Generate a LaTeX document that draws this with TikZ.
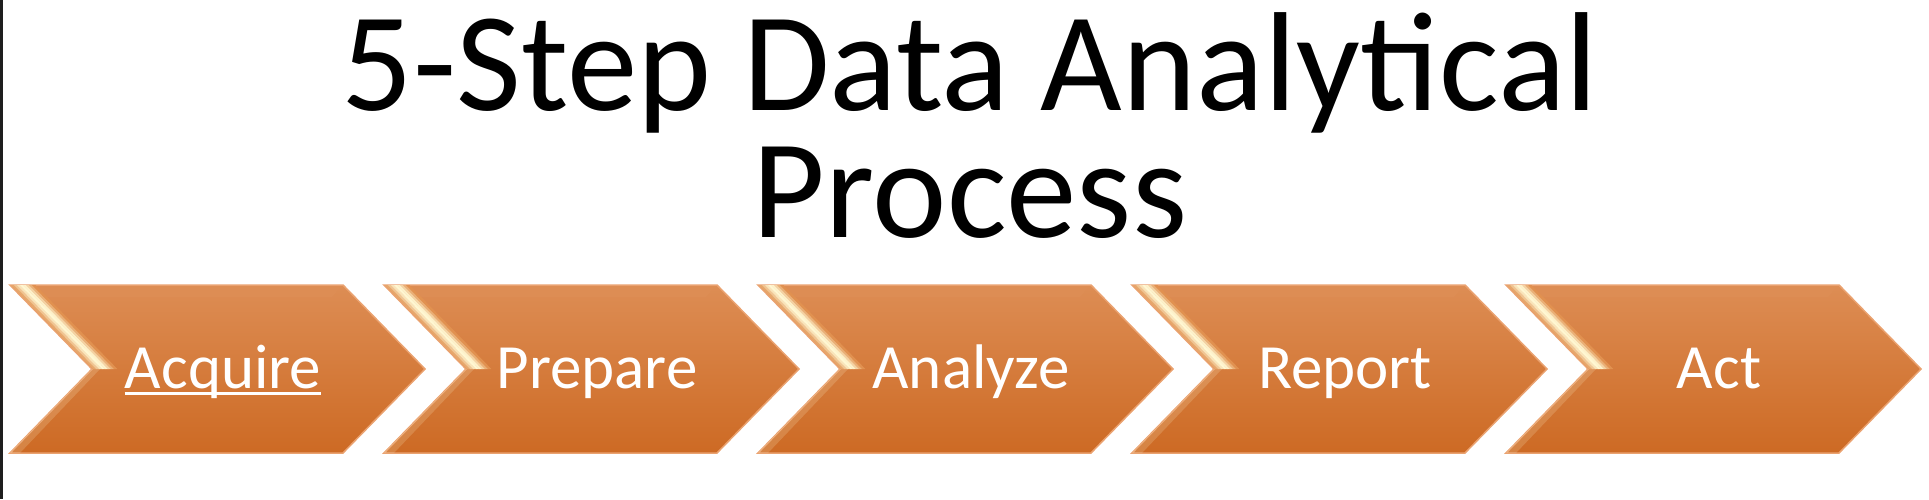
\documentclass[tikz,border=0pt]{standalone}
\usepackage{fontspec}
\newfontfamily\comicfont{Carlito}
\usetikzlibrary{positioning}

\definecolor{chevtop}{RGB}{221,141,84}
\definecolor{chevmid}{RGB}{218,123,52}
\definecolor{chevbot}{RGB}{205,106,36}
\definecolor{chevedge}{RGB}{234,162,112}
\definecolor{glint}{RGB}{255,247,210}
\definecolor{sidebar}{RGB}{30,30,30}

\begin{document}
\begin{tikzpicture}[x=1pt, y=1pt,
    every node/.style={inner sep=0pt},
    heading/.style={font=\comicfont\fontsize{141}{126}\selectfont, align=center},
    steplabel/.style={font=\comicfont\fontsize{63}{63}\selectfont, text=white, anchor=base},
    chevbody/.style={top color=chevtop, middle color=chevmid, bottom color=chevbot,
                     draw=chevedge, line width=1.5pt},
    topglint/.style={top color=chevtop, middle color=glint!80!chevtop, bottom color=chevtop},
    linkline/.style={white, line width=2.6pt},
  ]
    \useasboundingbox (0,0) rectangle (1929,499);
    % dark strip on the left edge
    \fill[sidebar] (0,0) rectangle (3,499);

    % title
    \node[heading, anchor=base] (title) at (970,262) {5-Step Data Analytical\\Process};

    % the five chevrons
    \foreach \lbl [count=\i] in {Acquire,Prepare,Analyze,Report,Act} {
      \pgfmathsetmacro\xl{10+374*(\i-1)}
      \begin{scope}[shift={(\xl,0)}]
        \path[chevbody] (0,214) -- (333,214) -- (415,130) -- (333,46)
          -- (0,46) -- (82,130) -- cycle;
        \begin{scope}
          \clip (0,214) -- (333,214) -- (415,130) -- (333,46)
            -- (0,46) -- (82,130) -- cycle;
          % bevel along the top edge
          \path[topglint] (6,211) -- (330,211) -- (322,202) -- (14,202) -- cycle;
          % bright bevel on the upper notch edge
          \foreach \d/\o in {1/35, 4/60, 7/85, 10/100, 13/95, 16/70, 19/42, 22/18}
            \fill[glint!\o!chevmid] (\d,214) -- ++(3.4,0) -- ++(82,-84) -- ++(-3.4,0) -- cycle;
          % soft bevel on the lower notch edge
          \fill[glint, opacity=0.18] (82,130) -- (90,130) -- (10,46) -- (0,46) -- cycle;
        \end{scope}
        \node[steplabel] (step\i) at (213,111) {\lbl};
      \end{scope}
    }

    % link underline of the first step
    \draw[linkline] ([yshift=-5.5pt]step1.base west) -- ([yshift=-5.5pt]step1.base east);
  \end{tikzpicture}
\end{document}
